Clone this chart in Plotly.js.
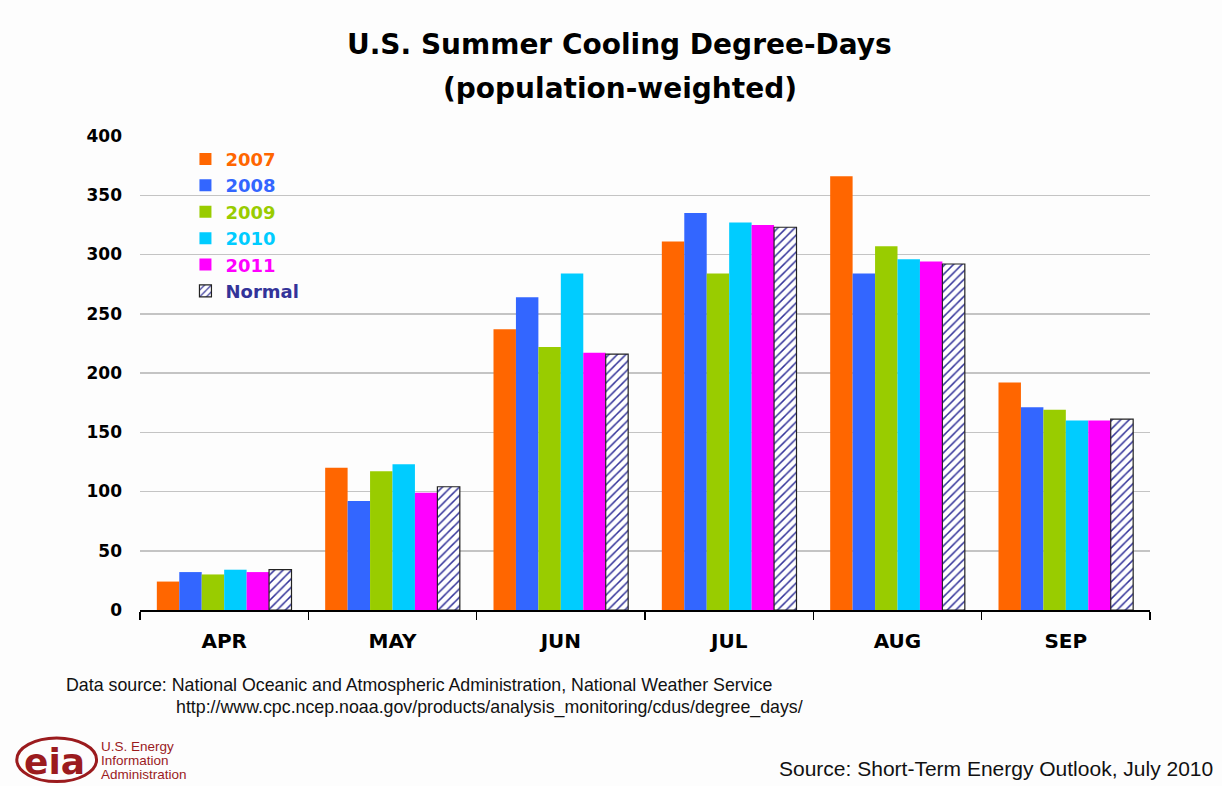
<!DOCTYPE html>
<html>
<head>
<meta charset="utf-8">
<script src="https://cdn.plot.ly/plotly-3.0.1.min.js"></script>
<style>html,body{margin:0;padding:0;background:#fdfdfd;}#chart{width:1222px;height:786px;}</style>
</head>
<body>
<div id="chart"></div>
<script>
const months = ['APR', 'MAY', 'JUN', 'JUL', 'AUG', 'SEP'];
const y2007 = [24, 120, 237, 311, 366, 192];
const y2008 = [32, 92, 264, 335, 284, 171];
const y2009 = [30, 117, 222, 284, 307, 169];
const y2010 = [34, 123, 284, 327, 296, 160];
const y2011 = [32, 99, 217, 325, 294, 160];
const normal = [34, 104, 216, 323, 292, 161];
const seriesNames = ['2007', '2008', '2009', '2010', '2011', 'Normal'];
const seriesColors = ['#FF6600', '#3366FF', '#99CC00', '#00CCFF', '#FF00FF', '#333399'];
const yTicks = [0, 50, 100, 150, 200, 250, 300, 350, 400];

const BOLD = 'DejaVu Sans, Arial, sans-serif';
const REG = 'Arial, Liberation Sans, sans-serif';

const values = [y2007, y2008, y2009, y2010, y2011, normal];
const traces = values.map((v, i) => {
  const isNormal = i === 5;
  return {
    type: 'bar',
    x: months,
    y: v,
    name: '<span style="color:' + seriesColors[i] + '"><b>' + seriesNames[i] + '</b></span>',
    marker: isNormal ? {
      color: '#ffffff',
      line: {color: '#222222', width: 1.2},
      pattern: {shape: '/', fgcolor: '#333399', bgcolor: '#ffffff', size: 6, solidity: 0.25}
    } : {color: seriesColors[i], line: {width: 0}},
    hoverinfo: 'x+y+name'
  };
});

const eiaRed = '#9B1B1E';
const layout = {
  width: 1222, height: 786,
  paper_bgcolor: '#fdfdfd', plot_bgcolor: '#fdfdfd',
  margin: {l: 140, r: 72, t: 136, b: 176},
  barmode: 'group', bargap: 0.2, bargroupgap: 0,
  showlegend: true,
  legend: {x: 0.045, y: 0.99, xanchor: 'left', yanchor: 'top', bgcolor: 'rgba(0,0,0,0)',
           font: {family: BOLD, size: 18}, itemwidth: 30, tracegroupgap: 0},
  font: {family: REG, color: '#000'},
  xaxis: {
    type: 'category', showgrid: false, showline: true, linecolor: '#000', linewidth: 1.5,
    ticks: 'outside', tickson: 'boundaries', ticklen: 8, tickcolor: '#000', tickwidth: 1.5,
    tickfont: {size: 20, family: BOLD, weight: 'bold'},
    ticklabelstandoff: 12
  },
  yaxis: {
    range: [0, 400], tickvals: yTicks, ticktext: yTicks.map(String),
    showgrid: true, gridcolor: '#c4c4c4', gridwidth: 1.5, zeroline: false, showline: false,
    ticks: '', tickfont: {size: 17, family: BOLD, weight: 'bold'},
    ticklabelstandoff: 17
  },
  annotations: [
    {text: '<b>U.S. Summer Cooling Degree-Days</b>', xref: 'paper', yref: 'paper', x: 0.475, y: 1.192,
     xanchor: 'center', yanchor: 'middle', showarrow: false, font: {size: 28, family: BOLD}},
    {text: '<b>(population-weighted)</b>', xref: 'paper', yref: 'paper', x: 0.475, y: 1.101,
     xanchor: 'center', yanchor: 'middle', showarrow: false, font: {size: 28, family: BOLD}},
    {text: 'Data source: National Oceanic and Atmospheric Administration, National Weather Service', xref: 'paper', yref: 'paper',
     x: -0.075, y: -0.158, xanchor: 'left', yanchor: 'middle', showarrow: false, font: {size: 17.8, color: '#111'}},
    {text: 'http://www.cpc.ncep.noaa.gov/products/analysis_monitoring/cdus/degree_days/', xref: 'paper', yref: 'paper',
     x: 0.034, y: -0.205, xanchor: 'left', yanchor: 'middle', showarrow: false, font: {size: 17.8, color: '#111'}},
    {text: 'Source: Short-Term Energy Outlook, July 2010', xref: 'paper', yref: 'paper',
     x: 1.064, y: -0.335, xanchor: 'right', yanchor: 'middle', showarrow: false, font: {size: 21, color: '#111'}},
    {text: '<b>eia</b>', xref: 'paper', yref: 'paper', x: -0.0845, y: -0.32, xanchor: 'center', yanchor: 'middle',
     showarrow: false, font: {size: 36, color: eiaRed, family: 'DejaVu Sans, sans-serif'}},
    {text: 'U.S. Energy', xref: 'paper', yref: 'paper', x: -0.0405, y: -0.2885,
     xanchor: 'left', yanchor: 'middle', showarrow: false, font: {size: 13.5, color: eiaRed}},
    {text: 'Information', xref: 'paper', yref: 'paper', x: -0.0405, y: -0.3175,
     xanchor: 'left', yanchor: 'middle', showarrow: false, font: {size: 13.5, color: eiaRed}},
    {text: 'Administration', xref: 'paper', yref: 'paper', x: -0.0405, y: -0.3465,
     xanchor: 'left', yanchor: 'middle', showarrow: false, font: {size: 13.5, color: eiaRed}}
  ],
  shapes: [
    {type: 'circle', xref: 'paper', yref: 'paper', x0: -0.122, x1: -0.043, y0: -0.362, y1: -0.27,
     line: {color: eiaRed, width: 3}, fillcolor: 'rgba(0,0,0,0)'}
  ]
};

Plotly.newPlot('chart', traces, layout, {displayModeBar: false, staticPlot: true});
</script>
</body>
</html>
